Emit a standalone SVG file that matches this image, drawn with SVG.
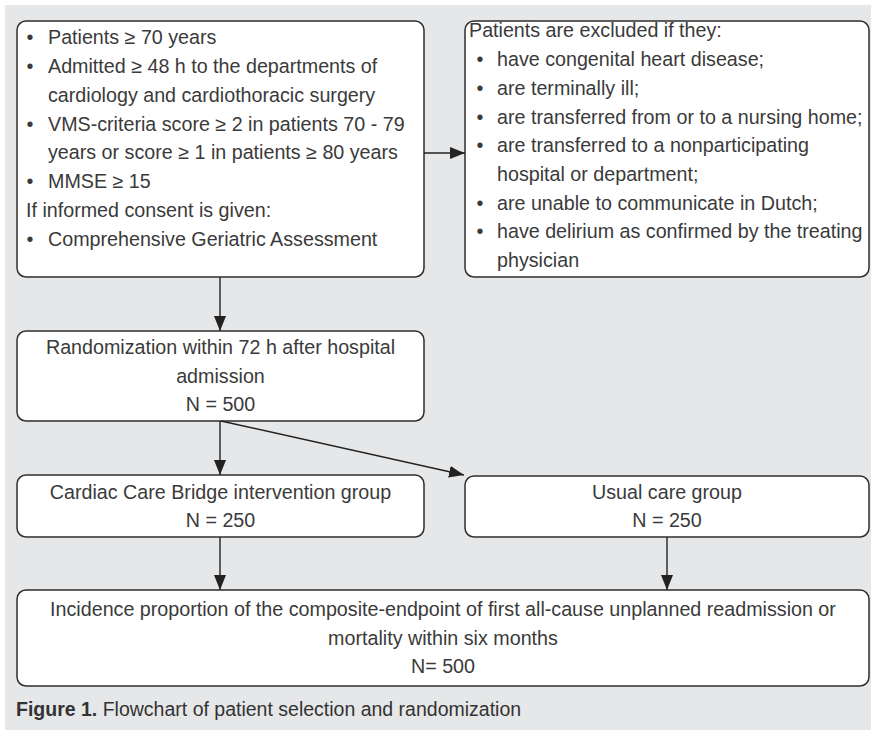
<svg xmlns="http://www.w3.org/2000/svg" width="871" height="730" viewBox="0 0 871 730">
<style>
.box{fill:#ffffff;stroke:#2e2e2e;stroke-width:1.5}
.t{font-family:"Liberation Sans",Arial,sans-serif;font-size:19.7px;fill:#3a3a3a}
.c{text-anchor:middle}
.b{text-anchor:middle}
.conn{stroke:#222222;stroke-width:1.4;fill:none;marker-end:url(#arr)}
.cap{font-family:"Liberation Sans",Arial,sans-serif;font-size:19.5px;fill:#333333}
</style>
<defs>
<marker id="arr" markerUnits="userSpaceOnUse" markerWidth="15" markerHeight="12" refX="15" refY="6" orient="auto">
<path d="M0,0 L15,6 L0,12 z" fill="#222222"/>
</marker>
</defs>
<rect x="0" y="0" width="871" height="730" fill="#ffffff"/>
<rect x="5" y="5" width="866" height="725" fill="#e6e7e9"/>

<g id="inclusion">
<rect class="box" x="17" y="21" width="407" height="256" rx="9"/>
<text class="t b" x="30" y="44">•</text>
<text class="t" x="48" y="44">Patients ≥ 70 years</text>
<text class="t b" x="30" y="73">•</text>
<text class="t" x="48" y="73">Admitted ≥ 48 h to the departments of</text>
<text class="t" x="48" y="102">cardiology and cardiothoracic surgery</text>
<text class="t b" x="30" y="131">•</text>
<text class="t" x="48" y="131">VMS-criteria score ≥ 2 in patients 70 - 79</text>
<text class="t" x="48" y="159">years or score ≥ 1 in patients ≥ 80 years</text>
<text class="t b" x="30" y="188">•</text>
<text class="t" x="48" y="188">MMSE ≥ 15</text>
<text class="t" x="26" y="217">If informed consent is given:</text>
<text class="t b" x="30" y="246">•</text>
<text class="t" x="48" y="246">Comprehensive Geriatric Assessment</text>
</g>

<g id="exclusion">
<rect class="box" x="465" y="21" width="404" height="256" rx="9"/>
<text class="t" x="469" y="37">Patients are excluded if they:</text>
<text class="t b" x="480" y="66">•</text>
<text class="t" x="497" y="66">have congenital heart disease;</text>
<text class="t b" x="480" y="95">•</text>
<text class="t" x="497" y="95">are terminally ill;</text>
<text class="t b" x="480" y="124">•</text>
<text class="t" x="497" y="124">are transferred from or to a nursing home;</text>
<text class="t b" x="480" y="152">•</text>
<text class="t" x="497" y="152">are transferred to a nonparticipating</text>
<text class="t" x="497" y="181">hospital or department;</text>
<text class="t b" x="480" y="210">•</text>
<text class="t" x="497" y="210">are unable to communicate in Dutch;</text>
<text class="t b" x="480" y="238">•</text>
<text class="t" x="497" y="238">have delirium as confirmed by the treating</text>
<text class="t" x="497" y="267">physician</text>
</g>

<g id="randomization">
<rect class="box" x="17" y="331" width="407" height="90" rx="9"/>
<text class="t c" x="220.5" y="354">Randomization within 72 h after hospital</text>
<text class="t c" x="220.5" y="383">admission</text>
<text class="t c" x="220.5" y="411">N = 500</text>
</g>

<g id="intervention">
<rect class="box" x="17" y="475" width="407" height="62" rx="9"/>
<text class="t c" x="220.5" y="499">Cardiac Care Bridge intervention group</text>
<text class="t c" x="220.5" y="527">N = 250</text>
</g>

<g id="usualcare">
<rect class="box" x="465" y="476" width="404" height="61" rx="9"/>
<text class="t c" x="667" y="499">Usual care group</text>
<text class="t c" x="667" y="527">N = 250</text>
</g>

<g id="outcome">
<rect class="box" x="17" y="590" width="852" height="96" rx="9"/>
<text class="t c" x="443" y="616">Incidence proportion of the composite-endpoint of first all-cause unplanned readmission or</text>
<text class="t c" x="443" y="645">mortality within six months</text>
<text class="t c" x="443" y="673">N= 500</text>
</g>

<g id="connectors">
<line class="conn" x1="220" y1="277" x2="220" y2="331"/>
<line class="conn" x1="424" y1="153" x2="465" y2="153"/>
<line class="conn" x1="220" y1="421" x2="220" y2="475"/>
<line class="conn" x1="221" y1="421" x2="464" y2="475"/>
<line class="conn" x1="220" y1="537" x2="220" y2="590"/>
<line class="conn" x1="667" y1="537" x2="667" y2="590"/>
</g>

<text class="cap" x="16" y="716"><tspan font-weight="bold">Figure 1.</tspan> Flowchart of patient selection and randomization</text>
</svg>
